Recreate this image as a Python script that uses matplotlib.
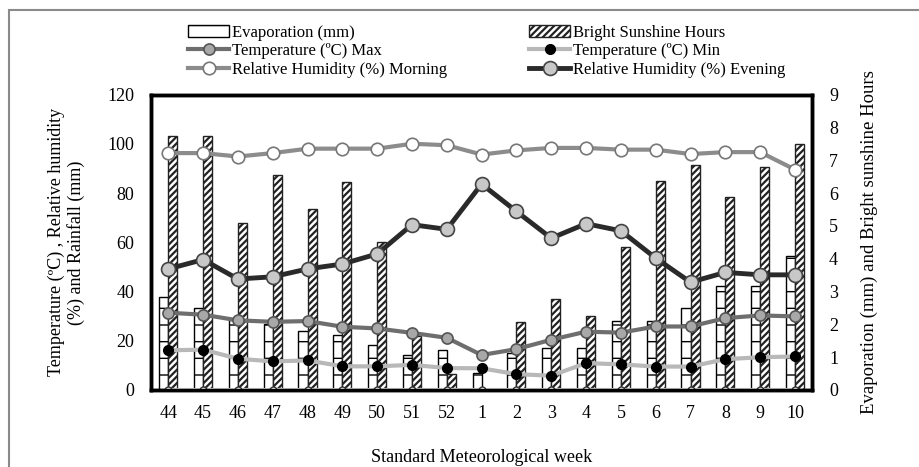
import matplotlib.pyplot as plt
import numpy as np
from matplotlib.patches import Rectangle

plt.rcParams['font.family'] = ['Liberation Serif', 'DejaVu Serif']
plt.rcParams['hatch.linewidth'] = 1.6

weeks = ['44', '45', '46', '47', '48', '49', '50', '51', '52',
         '1', '2', '3', '4', '5', '6', '7', '8', '9', '10']

# right axis (mm / hours)
evaporation = [2.82, 2.51, 2.12, 2.0, 1.81, 1.69, 1.38, 1.08, 1.21,
               0.52, 1.12, 1.29, 1.29, 2.09, 2.09, 2.49, 3.18, 3.18, 4.09]
sunshine = [7.74, 7.74, 5.10, 6.54, 5.53, 6.33, 4.51, 1.64, 0.49,
            0.0, 2.07, 2.78, 2.27, 4.37, 6.36, 6.85, 5.87, 6.79, 7.5]

# left axis (degC / % / mm)
temp_max = [31.4, 30.6, 28.3, 27.7, 28.0, 25.7, 25.0, 23.2, 21.2,
            14.2, 16.6, 20.4, 23.7, 23.3, 25.8, 25.8, 29.2, 30.3, 29.9]
temp_min = [16.1, 16.4, 12.7, 11.6, 12.0, 9.6, 9.6, 10.2, 8.9,
            8.8, 6.4, 5.8, 10.9, 10.4, 9.5, 9.5, 12.5, 13.3, 13.6]
rh_morning = [96.3, 96.3, 94.9, 96.3, 98.1, 98.1, 98.1, 100.1, 99.5,
              95.7, 97.4, 98.4, 98.4, 97.7, 97.7, 95.9, 96.7, 96.7, 89.6]
rh_evening = [49.2, 53.0, 45.1, 46.0, 49.2, 51.2, 55.3, 67.2, 65.3,
              83.7, 72.6, 61.7, 67.6, 64.7, 53.6, 43.8, 47.8, 46.8, 46.8]
rainfall = [0] * 19

x = np.arange(len(weeks))

fig = plt.figure(figsize=(9.2, 4.67), dpi=100)
ax = fig.add_axes([0.164, 0.165, 0.719, 0.632])
ax2 = ax.twinx()

bw = 0.26
b1 = ax2.bar(x - bw / 2, evaporation, bw, color='white', edgecolor='black',
             hatch='-', lw=1.0, label='Evaporation (mm)')
b2 = ax2.bar(x + bw / 2, sunshine, bw, color='white', edgecolor='#222222',
             hatch='/////', lw=1.0, label='Bright Sunshine Hours')
for p in b1:
    p.set_hatch_linewidth(1.0)

ax.set_zorder(ax2.get_zorder() + 1)
ax.patch.set_visible(False)

ax.plot(x, rainfall, color='#d4d4d4', lw=3, marker='o', ms=5,
        mfc='white', mec='#333333', mew=1.0)
l1, = ax.plot(x, temp_max, color='#6e6e6e', lw=3, marker='o', ms=8,
              mfc='#a8a8a8', mec='#555555', mew=1.2, label='Temperature (ºC) Max')
l2, = ax.plot(x, temp_min, color='#b8b8b8', lw=3, marker='o', ms=7,
              mfc='black', mec='black', label='Temperature (ºC) Min')
l3, = ax.plot(x, rh_morning, color='#8c8c8c', lw=3, marker='o', ms=9,
              mfc='white', mec='#777777', mew=1.2,
              label='Relative Humidity (%) Morning')
l4, = ax.plot(x, rh_evening, color='#2a2a2a', lw=3.5, marker='o', ms=10,
              mfc='#c8c8c8', mec='#444444', mew=1.2,
              label='Relative Humidity (%) Evening')

ax.set_xlim(-0.5, len(weeks) - 0.5)
ax.set_ylim(0, 120)
ax2.set_ylim(0, 9)
ax.set_yticks(np.arange(0, 121, 20))
ax2.set_yticks(np.arange(0, 10, 1))
ax.set_xticks(x)
ax.set_xticklabels(weeks)
ax.tick_params(axis='x', length=0, labelsize=13, pad=11)
ax.tick_params(axis='y', length=0, labelsize=13, pad=12)
ax2.tick_params(axis='y', length=0, labelsize=13, pad=12)
for a in (ax, ax2):
    for s in a.spines.values():
        s.set_linewidth(2.5)

ax.set_xlabel('Standard Meteorological week', fontsize=13, labelpad=19)
ax.set_ylabel('Temperature (ºC) , Relative humidity\n(%) and Rainfall (mm)',
              fontsize=13, labelpad=16, linespacing=1.15)
ax2.set_ylabel('Evaporation (mm) and Bright sunshine Hours', fontsize=13.5,
               labelpad=16)

handles = [b1, l1, l3, b2, l2, l4]
fig.legend(handles, [h.get_label() for h in handles], ncol=2,
           loc='upper left', bbox_to_anchor=(0.195, 0.965), frameon=False,
           fontsize=12, handlelength=2.5, handletextpad=0.15,
           columnspacing=4.9, labelspacing=0.15, borderpad=0)

fig.add_artist(Rectangle((9 / 920, -0.1), 1.2, 1.1 - 10 / 467,
                         transform=fig.transFigure, fill=False,
                         edgecolor='#8a8a8a', lw=1.5))

plt.savefig('out.png', dpi=100)
